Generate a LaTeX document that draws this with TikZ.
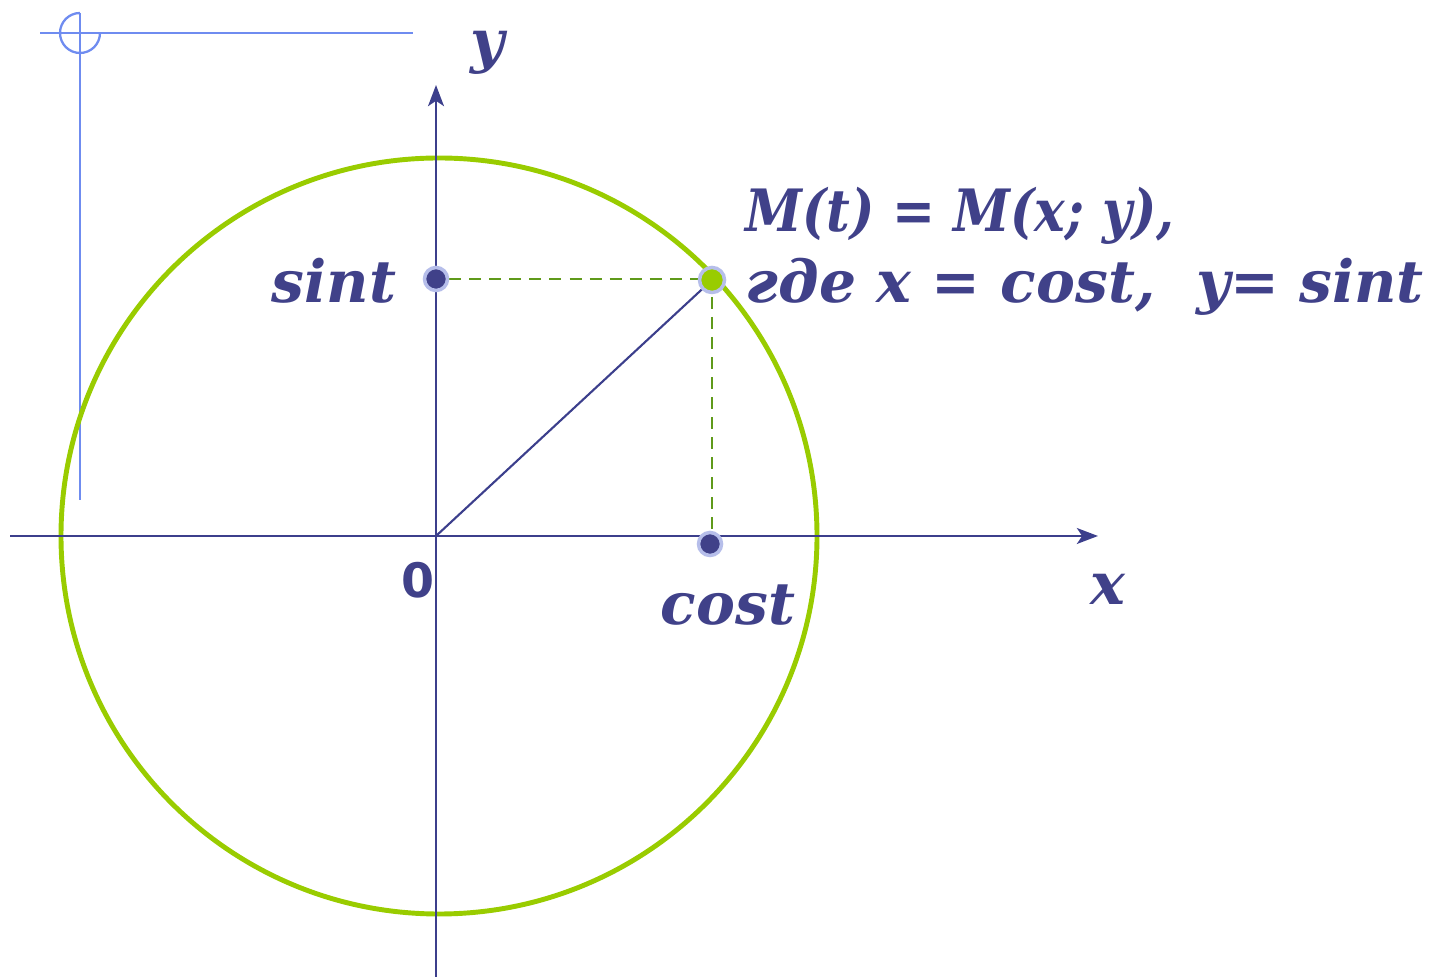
\documentclass[tikz,border=0pt]{standalone}
\usepackage{fontspec}
\setmainfont{DejaVu Serif}
\newfontfamily\zerofont{DejaVu Sans}
\usetikzlibrary{arrows.meta,positioning,backgrounds}
\definecolor{navy}{HTML}{404189}
\definecolor{axisc}{HTML}{3C3F8C}
\definecolor{guide}{HTML}{6F8CF0}
\definecolor{lime}{HTML}{99CC00}
\definecolor{olive}{HTML}{5F9A1A}
\definecolor{halo}{HTML}{B6BEEA}

\begin{document}
\begin{tikzpicture}[x=0.01cm,y=-0.01cm,
   lbl/.style={text=navy,font=\fontsize{16.6}{19}\selectfont\bfseries\itshape,inner sep=0pt},
   dot/.style={circle,draw=halo,line width=1pt,minimum size=0.23cm,inner sep=0pt},
   ax/.style={axisc,line width=0.75pt,-{Stealth[length=6pt,width=4.5pt,inset=1.5pt]}},
   guideline/.style={dash pattern=on 3.4pt off 2.3pt,olive,line width=0.7pt}]
  \useasboundingbox (0,0) rectangle (1431,977);
  % corner mark
  \draw[guide,line width=0.65pt] (40,33) -- (413,33) (80,13) -- (80,500);
  \draw[guide,line width=0.65pt] (80,13) arc[start angle=-90,end angle=-360,radius=20];
  \coordinate (O) at (436,536);
  \draw[lime,line width=1.4pt] (439,536) circle[radius=378];
  \draw[ax] (10,536) -- (1098,536);
  \draw[ax] (436,977) -- (436,85);
  \node[dot,fill=lime,minimum size=0.25cm] (M) at (712,280) {};
  \node[dot,fill=navy] (S) at (436,279) {};
  \node[dot,fill=navy] (C) at (710,544) {};
  \begin{scope}[on background layer]
    \draw[guideline] (S) -- (S -| M) -- (M |- O);
    \draw[axisc,line width=0.6pt] (O) -- (M.center);
  \end{scope}
  % labels
  \node[lbl,anchor=base west] (ylab) at (470,62) {y};
  \node[lbl,anchor=base west] (xlab) at (1090,605) {x};
  \node[text=navy,font=\zerofont\fontsize{13.5}{15}\selectfont\bfseries,inner sep=0pt,anchor=base] (zero) at (418,598) {0};
  \node[lbl,anchor=base east] (sint) at (397,303) {sint};
  \node[lbl,anchor=base west] (cost) at (660,625) {cost};
  \node[lbl,anchor=base west] (Mt) at (745,232) {\scalebox{0.88}[1]{M(t) = M(x; y),}};
  \node[lbl,anchor=base west] (gde) at (745,303) {где x = cost,\ \ y= sint};
\end{tikzpicture}
\end{document}
